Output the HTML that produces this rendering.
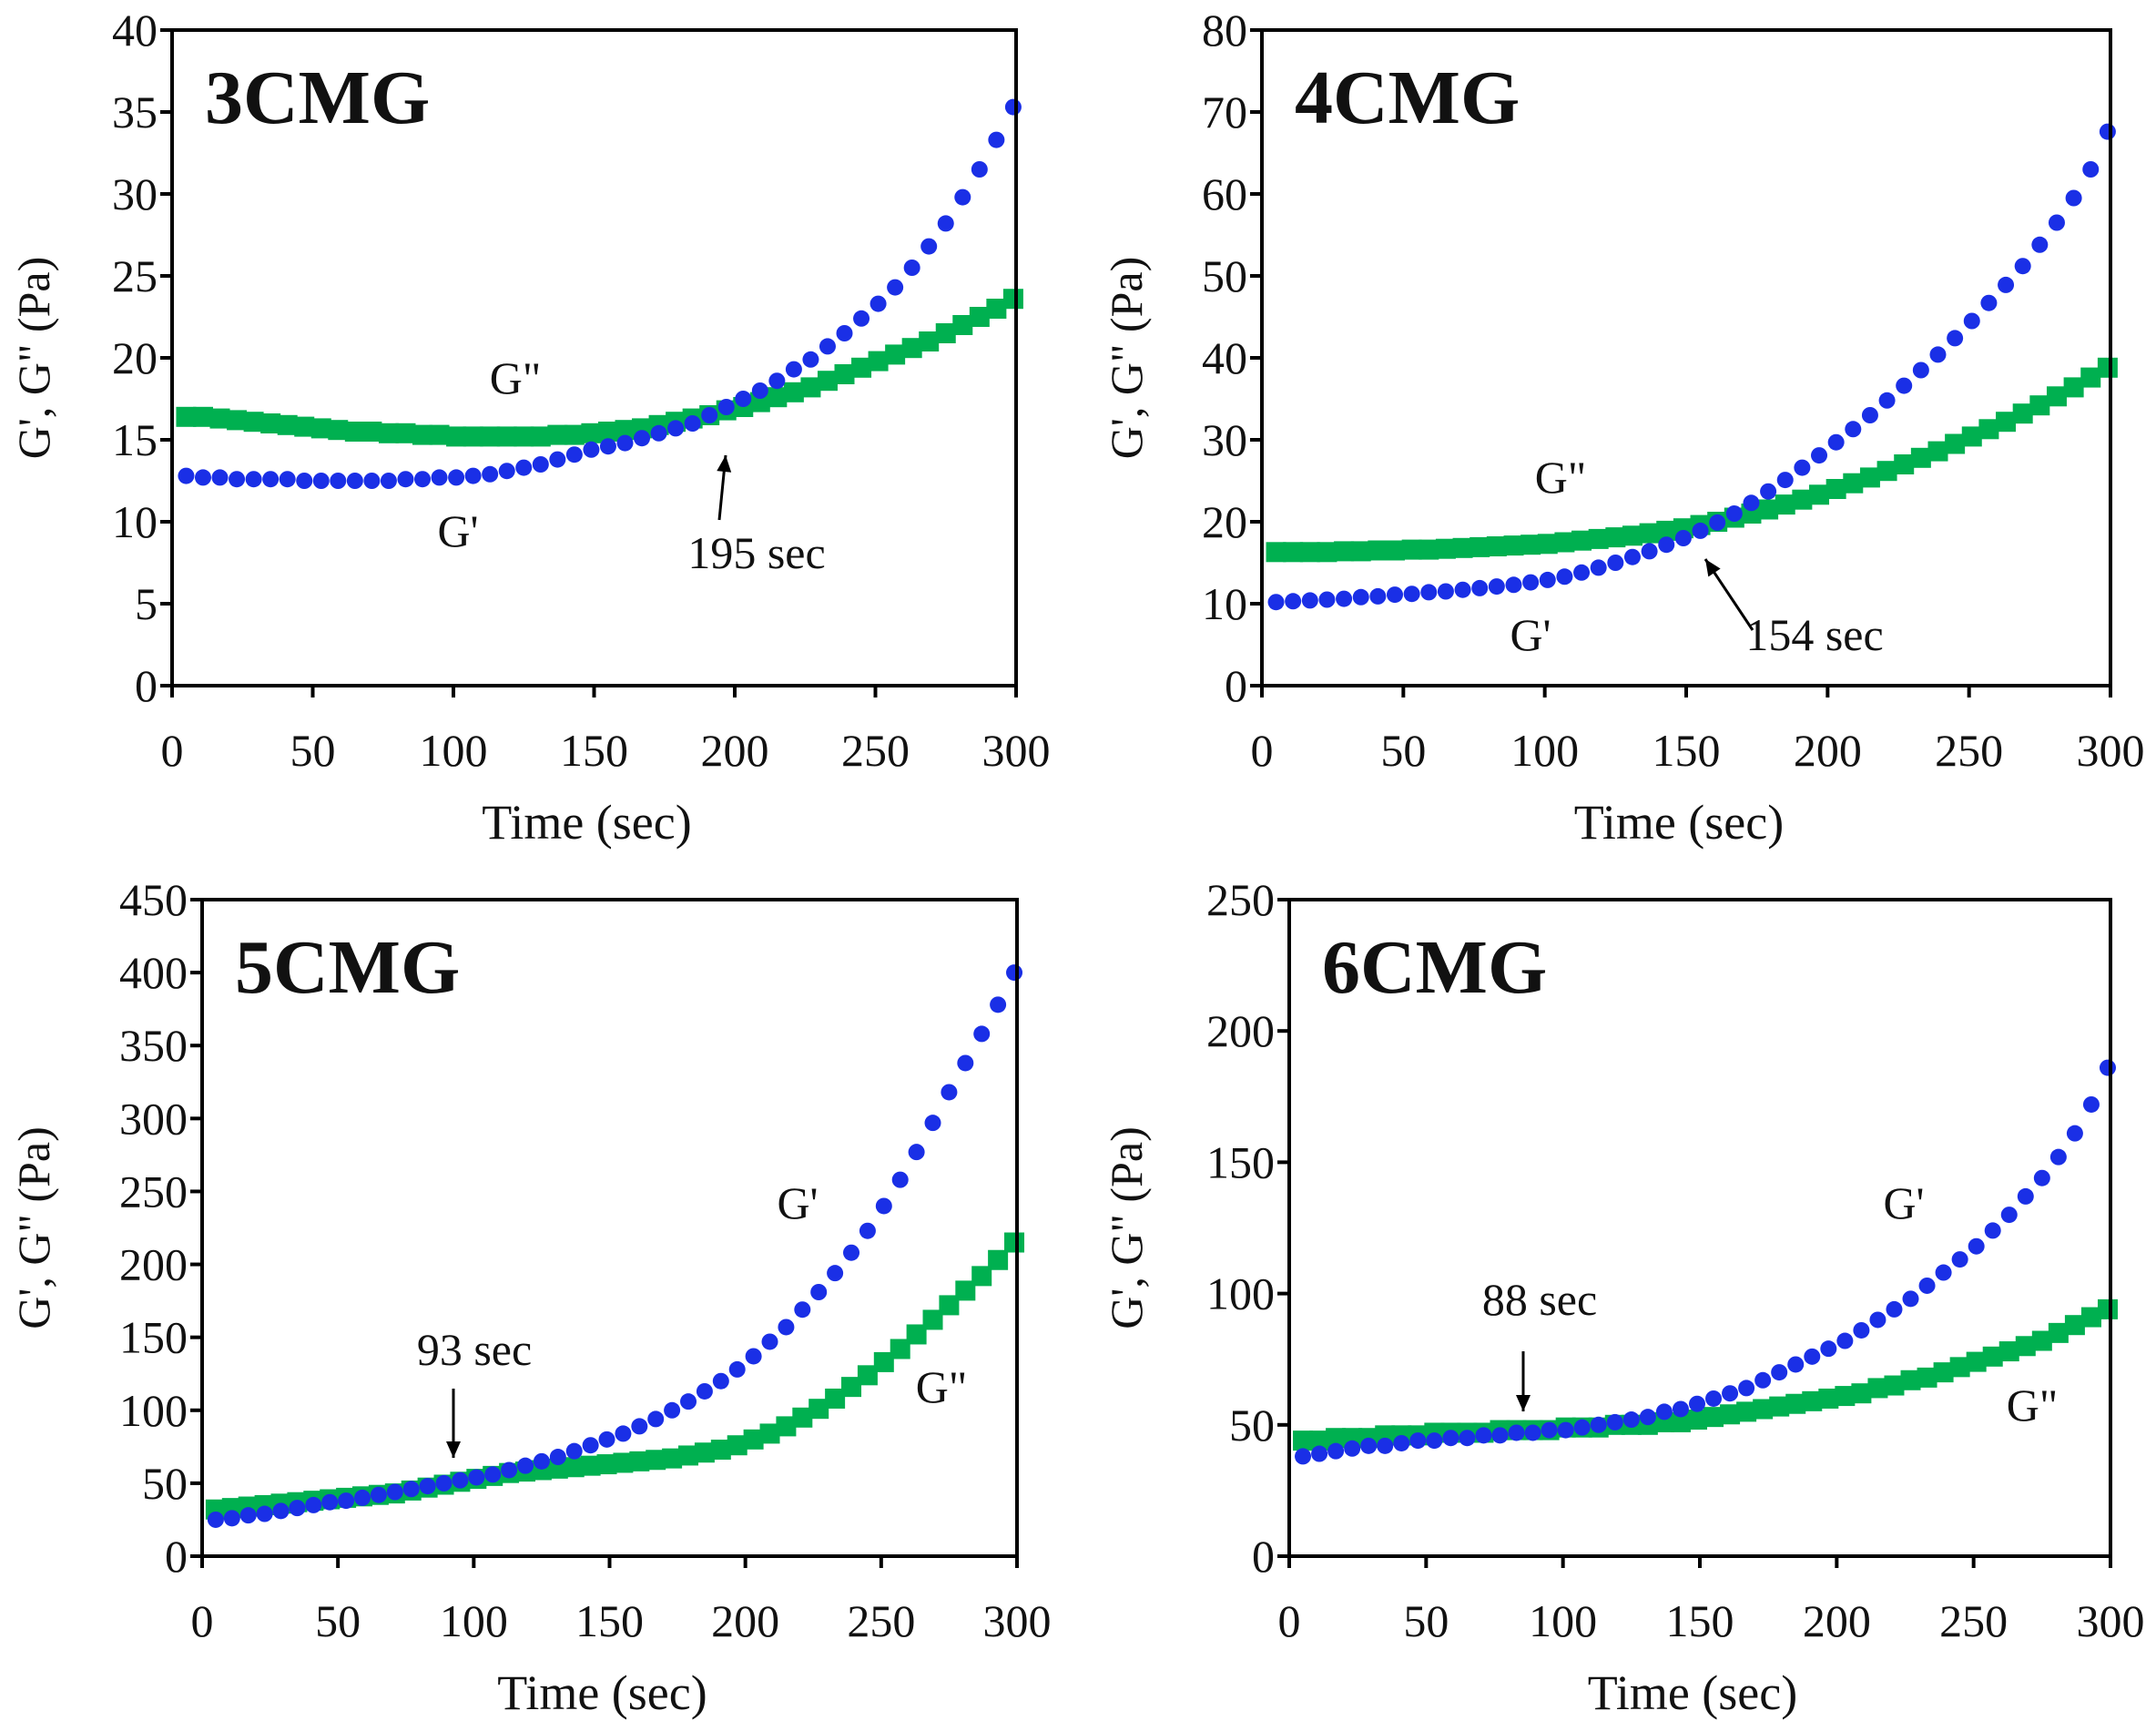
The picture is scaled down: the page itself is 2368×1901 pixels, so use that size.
<!DOCTYPE html>
<html><head><meta charset="utf-8"><style>
html,body{margin:0;padding:0;background:#fff}
svg{display:block}
text{font-family:"Liberation Serif",serif;fill:#111}
</style></head><body>
<svg id="fig" width="2368" height="1901" viewBox="0 0 2368 1901" xmlns="http://www.w3.org/2000/svg"></svg>
<script>
const times=[5,11,17,23,29,35,41,47,53,59,65,71,77,83,89,95,101,107,113,119,125,131,137,143,149,155,161,167,173,179,185,191,197,203,209,215,221,227,233,239,245,251,257,263,269,275,281,287,293,299];
const xTicks=[0,50,100,150,200,250,300];
const g1Prime=[12.8,12.7,12.7,12.6,12.6,12.6,12.6,12.5,12.5,12.5,12.5,12.5,12.5,12.6,12.6,12.7,12.7,12.8,12.9,13.1,13.3,13.5,13.8,14.1,14.4,14.6,14.8,15.1,15.4,15.7,16.0,16.5,17.0,17.5,18.0,18.6,19.3,19.9,20.7,21.5,22.4,23.3,24.3,25.5,26.8,28.2,29.8,31.5,33.3,35.3];
const g1Double=[16.4,16.4,16.3,16.2,16.1,16.0,15.9,15.8,15.7,15.6,15.5,15.5,15.4,15.4,15.3,15.3,15.2,15.2,15.2,15.2,15.2,15.2,15.3,15.3,15.4,15.5,15.6,15.7,15.9,16.1,16.3,16.5,16.8,17.0,17.3,17.6,17.9,18.2,18.6,19.0,19.4,19.8,20.2,20.6,21.0,21.5,22.0,22.5,23.0,23.6];
const g2Prime=[10.2,10.3,10.4,10.5,10.6,10.8,10.9,11.1,11.2,11.4,11.5,11.7,11.9,12.1,12.3,12.6,12.9,13.3,13.8,14.4,15.0,15.7,16.4,17.2,18.0,18.9,19.9,21.0,22.3,23.7,25.1,26.6,28.1,29.7,31.3,33.0,34.8,36.6,38.5,40.4,42.4,44.5,46.7,48.9,51.2,53.8,56.5,59.5,63.0,67.6];
const g2Double=[16.3,16.3,16.3,16.3,16.4,16.4,16.5,16.5,16.6,16.6,16.7,16.8,16.9,17.0,17.1,17.2,17.3,17.5,17.7,17.9,18.1,18.3,18.6,18.9,19.2,19.6,20.0,20.5,21.0,21.5,22.1,22.7,23.3,24.0,24.7,25.4,26.2,27.0,27.8,28.6,29.5,30.4,31.3,32.2,33.2,34.2,35.3,36.4,37.6,38.8];
const g3Prime=[25,26,28,29,31,33,35,37,38,40,42,44,46,48,50,52,54,56,59,62,65,68,72,76,80,84,89,94,100,106,113,120,128,137,147,157,169,181,194,208,223,240,258,277,297,318,338,358,378,400];
const g3Double=[32,33,34,35,36,37,38,39,40,41,42,43,45,47,49,51,53,55,57,58,59,60,61,62,63,64,65,66,67,69,71,73,76,80,84,89,95,101,108,116,124,133,142,152,162,172,182,192,203,215];
const g4Prime=[38,39,40,41,42,42,43,44,44,45,45,46,46,47,47,48,48,49,50,51,52,53,55,56,58,60,62,64,67,70,73,76,79,82,86,90,94,98,103,108,113,118,124,130,137,144,152,161,172,186];
const g4Double=[44,44,45,45,45,46,46,46,47,47,47,47,48,48,48,48,49,49,49,50,50,50,51,51,52,53,54,55,56,57,58,59,60,61,62,64,65,67,68,70,72,74,76,78,80,82,85,88,91,94];
const yTicks1=[0,5,10,15,20,25,30,35,40];
const yTicks2=[0,10,20,30,40,50,60,70,80];
const yTicks3=[0,50,100,150,200,250,300,350,400,450];
const yTicks4=[0,50,100,150,200,250];

const NS="http://www.w3.org/2000/svg";
const fig=document.getElementById('fig');
function mk(tag,attrs,parent){const e=document.createElementNS(NS,tag);for(const k in attrs)e.setAttribute(k,attrs[k]);parent.appendChild(e);return e;}

const panels=[
 {id:'3cmg',title:'3CMG',L:189,R:1116,T:33,B:753,yt:yTicks1,gp:g1Prime,gd:g1Double,ytx:38,
  labels:[['G"',566,432],['G\'',503,600]],ann:['195 sec',831,624],arrow:[790,571,797,500]},
 {id:'4cmg',title:'4CMG',L:1386,R:2318,T:33,B:753,yt:yTicks2,gp:g2Prime,gd:g2Double,ytx:1238,
  labels:[['G"',1714,541],['G\'',1681,714]],ann:['154 sec',1993,714],arrow:[1925,692,1873,614]},
 {id:'5cmg',title:'5CMG',L:222,R:1117,T:988,B:1709,yt:yTicks3,gp:g3Prime,gd:g3Double,ytx:38,
  labels:[['G\'',876,1338],['G"',1034,1540]],ann:['93 sec',521,1499],arrow:[498,1525,498,1601]},
 {id:'6cmg',title:'6CMG',L:1416,R:2318,T:988,B:1709,yt:yTicks4,gp:g4Prime,gd:g4Double,ytx:1238,
  labels:[['G\'',2091,1338],['G"',2232,1560]],ann:['88 sec',1691,1444],arrow:[1673,1484,1673,1550]}
];

panels.forEach(p=>{
  const g=mk('g',{},fig);
  
  
  const ymax=p.yt[p.yt.length-1];
  const sx=v=>p.L+(v/300)*(p.R-p.L);
  const sy=v=>p.B-(v/ymax)*(p.B-p.T);
  const sq=mk('g',{fill:'#00b050'},g);
  
  
  times.forEach((t,i)=>{const r=mk('rect',{x:sx(t)-11,y:sy(p.gd[i])-11,width:22,height:22},sq);
    
    });
  const ci=mk('g',{fill:'#1a2fe6'},g);
  
  
  times.forEach((t,i)=>{const c=mk('circle',{cx:sx(t),cy:sy(p.gp[i]),r:9},ci);
    
    });
  const fr=mk('rect',{x:p.L,y:p.T,width:p.R-p.L,height:p.B-p.T,fill:'none',stroke:'#000','stroke-width':4},g);
  
  
  p.yt.forEach(v=>{
    mk('line',{x1:p.L-13,x2:p.L,y1:sy(v),y2:sy(v),stroke:'#000','stroke-width':4},g);
    const t=mk('text',{x:p.L-16,y:sy(v)+17,'text-anchor':'end','font-size':50},g);
    t.textContent=v;
    
    
  });
  xTicks.forEach(v=>{
    mk('line',{x1:sx(v),x2:sx(v),y1:p.B,y2:p.B+13,stroke:'#000','stroke-width':4},g);
    const t=mk('text',{x:sx(v),y:p.B+88,'text-anchor':'middle','font-size':50},g);
    t.textContent=v;
    
    
  });
  const cy=(p.T+p.B)/2;
  const yt=mk('text',{x:p.ytx,y:cy,'text-anchor':'middle','font-size':50,transform:`rotate(-90 ${p.ytx} ${cy})`,dy:16},g);
  yt.textContent='G\', G" (Pa)';
  
  
  const xt=mk('text',{x:(p.L+p.R)/2-8,y:p.B+168,'text-anchor':'middle','font-size':54},g);
  xt.textContent='Time (sec)';
  
  
  const ti=mk('text',{x:p.L+36,y:p.T+102,'font-size':84,'font-weight':'bold'},g);
  ti.textContent=p.title;
  
  
  p.labels.forEach(l=>{const t=mk('text',{x:l[1],y:l[2],'text-anchor':'middle','font-size':50},g);
    t.textContent=l[0];
    
    });
  const an=mk('text',{x:p.ann[1],y:p.ann[2],'text-anchor':'middle','font-size':50},g);
  an.textContent=p.ann[0];
  
  
  const [x1,y1,x2,y2]=p.arrow;
  mk('line',{x1:x1,y1:y1,x2:x2,y2:y2,stroke:'#000','stroke-width':3},g);
  const ang=Math.atan2(y2-y1,x2-x1),h=18,w=8;
  const bx=x2-h*Math.cos(ang),by=y2-h*Math.sin(ang);
  const ah=mk('polygon',{points:`${x2},${y2} ${bx+w*Math.sin(ang)},${by-w*Math.cos(ang)} ${bx-w*Math.sin(ang)},${by+w*Math.cos(ang)}`,fill:'#000'},g);
  
  
});
</script>
</body></html>
